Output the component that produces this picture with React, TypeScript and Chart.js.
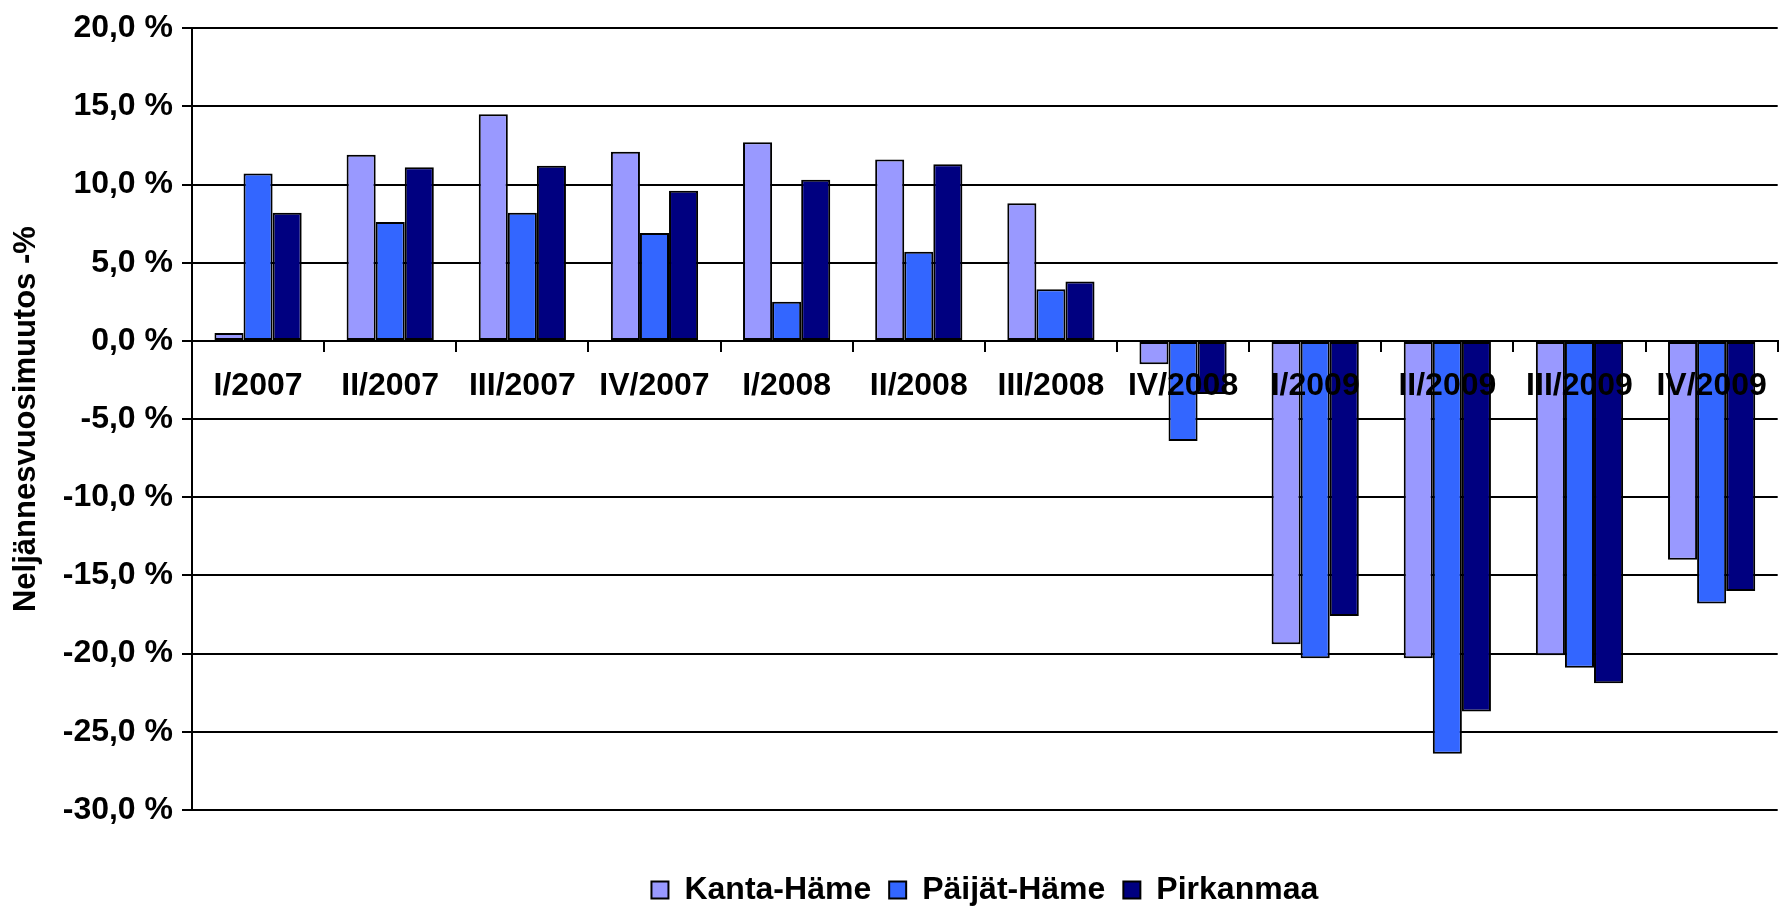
import React, { useEffect, useRef } from 'react';
import { Chart, registerables } from 'chart.js';

Chart.register(...registerables);

const categories = ['I/2007', 'II/2007', 'III/2007', 'IV/2007', 'I/2008', 'II/2008', 'III/2008', 'IV/2008', 'I/2009', 'II/2009', 'III/2009', 'IV/2009'];
const kantaHame = [0.5, 11.9, 14.5, 12.1, 12.7, 11.6, 8.8, -1.5, -19.4, -20.3, -20.1, -14.0];
const paijatHame = [10.7, 7.6, 8.2, 6.9, 2.5, 5.7, 3.3, -6.4, -20.3, -26.4, -20.9, -16.8];
const pirkanmaa = [8.2, 11.1, 11.2, 9.6, 10.3, 11.3, 3.8, -3.4, -17.6, -23.7, -21.9, -16.0];
const seriesNames = ['Kanta-Häme', 'Päijät-Häme', 'Pirkanmaa'];
const yMin = -30;
const yMax = 20;
const yStep = 5;
const yTitle = 'Neljännesvuosimuutos -%';

const FONT = "'Liberation Sans', Arial, sans-serif";

export default function App() {
  const ref = useRef<HTMLCanvasElement>(null);

  useEffect(() => {
    if (!ref.current) return;
    const legendHeightPlugin = {
      id: 'legendHeight',
      beforeInit(chart: any) {
        const legend = chart.legend;
        if (!legend) return;
        const origFit = legend.fit;
        legend.fit = function () {
          origFit.call(this);
          this.height = 99;
        };
      },
    };
    const chart = new Chart(ref.current, {
      type: 'bar',
      data: {
        labels: categories,
        datasets: [
          { label: seriesNames[0], data: kantaHame, backgroundColor: '#9999FF', borderColor: '#000000', borderWidth: 2, borderSkipped: false },
          { label: seriesNames[1], data: paijatHame, backgroundColor: '#3366FF', borderColor: '#000000', borderWidth: 2, borderSkipped: false },
          { label: seriesNames[2], data: pirkanmaa, backgroundColor: '#000080', borderColor: '#000000', borderWidth: 2, borderSkipped: false },
        ],
      },
      options: {
        animation: false,
        responsive: true,
        maintainAspectRatio: false,
        datasets: { bar: { categoryPercentage: 0.66, barPercentage: 1 } },
        layout: { padding: { left: 8, right: 3, top: 22, bottom: 0 } },
        plugins: {
          tooltip: { enabled: false },
          legend: {
            position: 'bottom',
            fullSize: false,
            title: { display: true, text: '', padding: { top: 45, bottom: 0 }, font: { size: 1, lineHeight: 1 } },
            labels: {
              boxWidth: 17,
              boxHeight: 17,
              padding: 18,
              color: '#000000',
              font: { family: FONT, size: 32, weight: 'bold', lineHeight: 1 },
            },
          },
        },
        scales: {
          x: {
            type: 'category',
            position: { y: 0 } as any,
            grid: { display: true, drawOnChartArea: false, drawTicks: true, tickLength: 10, offset: true, color: '#000000', lineWidth: 2 },
            border: { display: true, color: '#000000', width: 2 },
            ticks: {
              z: 1,
              color: '#000000',
              padding: 16,
              autoSkip: false,
              maxRotation: 0,
              font: { family: FONT, size: 32, weight: 'bold' },
            },
          },
          y: {
            min: yMin,
            max: yMax,
            afterFit(scale: any) {
              scale.width = 184;
            },
            grid: { color: '#000000', lineWidth: 2, tickLength: 10, drawTicks: true },
            border: { display: true, color: '#000000', width: 2 },
            ticks: {
              stepSize: yStep,
              color: '#000000',
              padding: 9,
              font: { family: FONT, size: 32, weight: 'bold' },
              callback: (v: any) => Number(v).toFixed(1).replace('.', ',') + ' %',
            },
            title: {
              display: true,
              text: yTitle,
              color: '#000000',
              padding: 0,
              font: { family: FONT, size: 31, weight: 'bold' },
            },
          },
        },
      },
      plugins: [legendHeightPlugin],
    });
    return () => chart.destroy();
  }, []);

  return (
    <div style={{ position: 'fixed', left: 0, top: 0, width: 1783, height: 909, background: '#ffffff' }}>
      <canvas ref={ref} />
    </div>
  );
}
